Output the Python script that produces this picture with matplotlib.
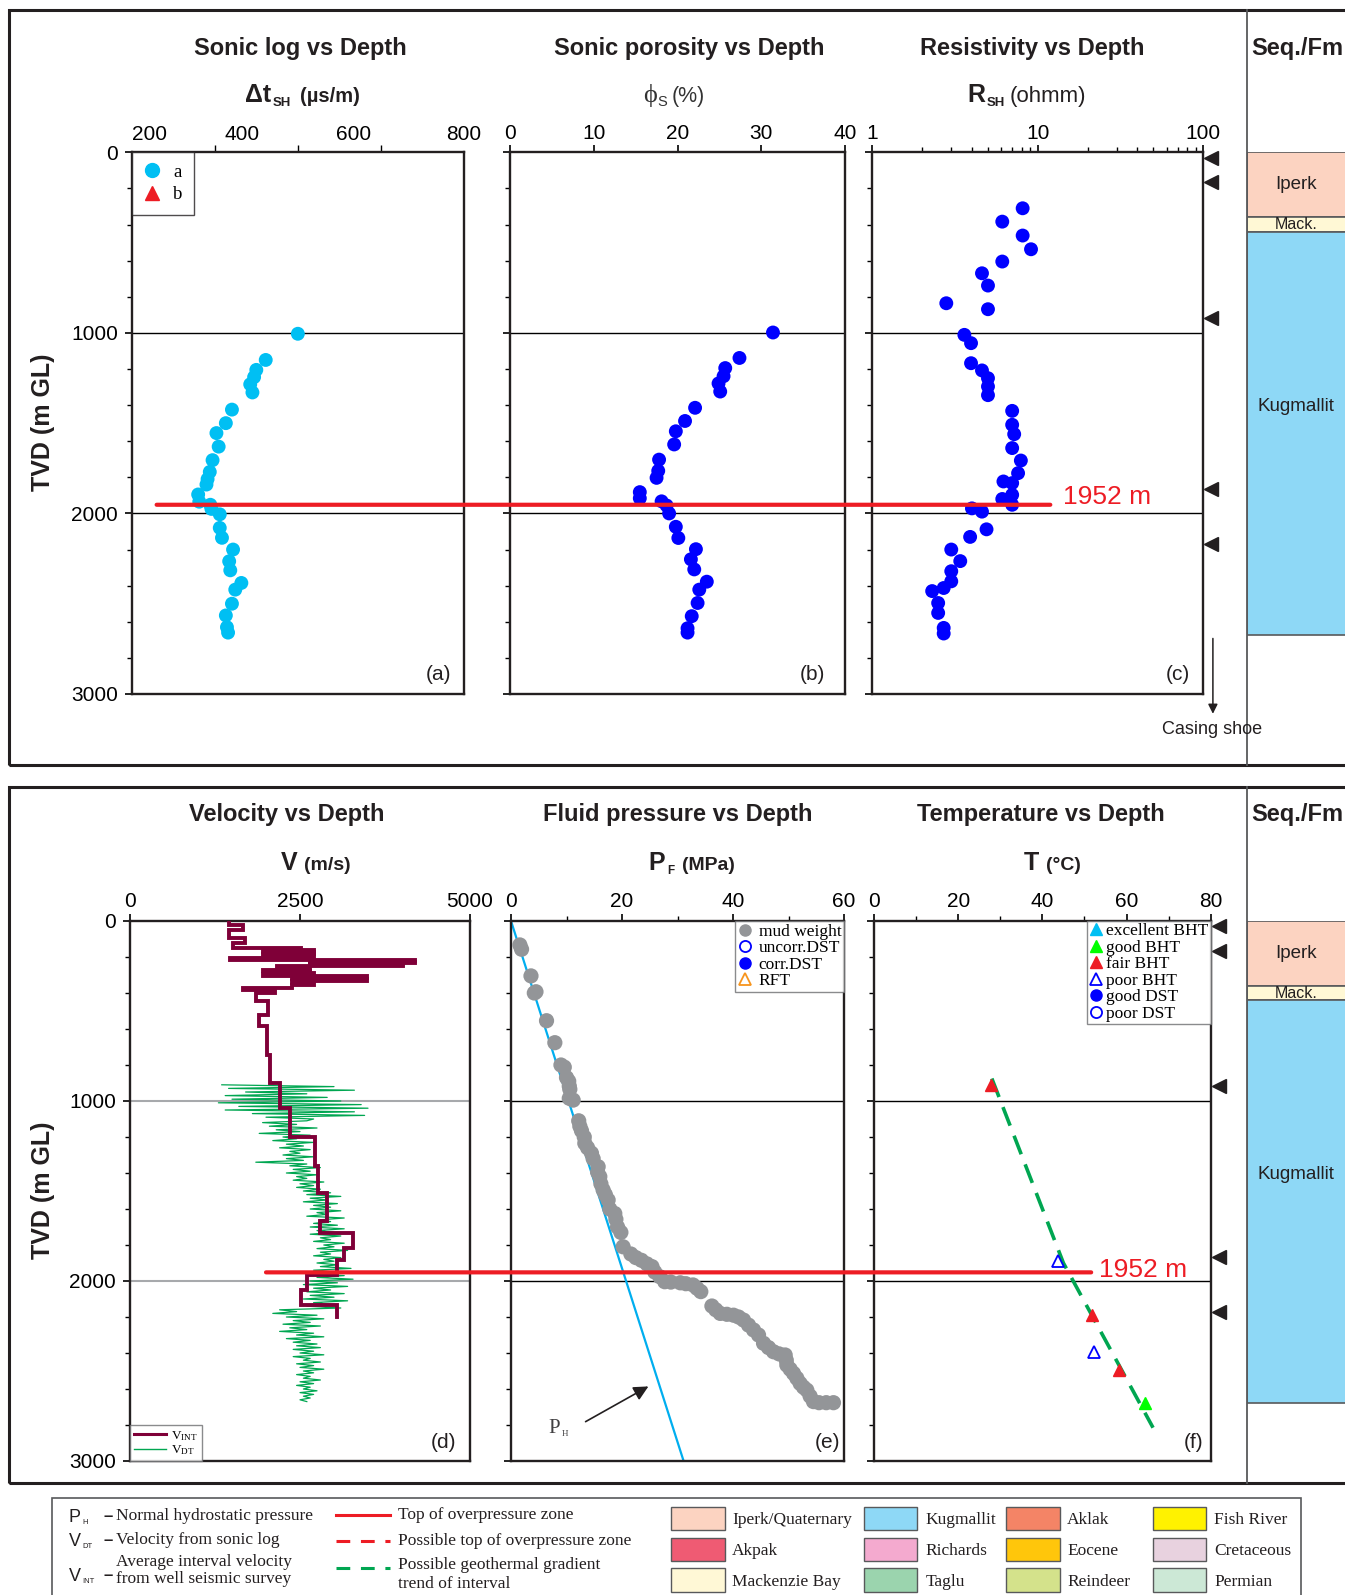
import numpy as np
import matplotlib
matplotlib.use('Agg')
import matplotlib.pyplot as plt
from matplotlib.lines import Line2D
from matplotlib.patches import Rectangle, ConnectionPatch
from matplotlib.transforms import blended_transform_factory
from matplotlib.ticker import FixedLocator, NullFormatter, LogLocator, FixedFormatter

plt.rcParams['font.family'] = ['Liberation Sans', 'DejaVu Sans']
plt.rcParams['mathtext.fontset'] = 'custom'
plt.rcParams['mathtext.rm'] = 'Liberation Serif'
plt.rcParams['mathtext.sf'] = 'Liberation Sans'
plt.rcParams['mathtext.bf'] = 'Liberation Sans:bold'
plt.rcParams['mathtext.it'] = 'Liberation Serif:italic'

# ---------------- data ----------------
# (a) sonic transit time
depth_a = [1005, 1150, 1205, 1245, 1285, 1330, 1425, 1500, 1555, 1630, 1705, 1770, 1810, 1840, 1895,
           1935, 1952, 1975, 2005, 2080, 2135, 2200, 2265, 2315, 2385, 2422, 2500, 2565, 2630, 2660]
dt_a = [500, 442, 425, 421, 414, 418, 381, 370, 353, 357, 346, 341, 337, 335, 320,
        322, 342, 344, 359, 359, 363, 383, 376, 378, 398, 387, 381, 370, 372, 374]
# (b) sonic porosity
depth_b = [998, 1139, 1195, 1240, 1280, 1325, 1415, 1488, 1545, 1618, 1702, 1764, 1803, 1882, 1916,
           1933, 1956, 2000, 2074, 2136, 2198, 2254, 2310, 2378, 2422, 2496, 2569, 2636, 2660]
phi_b = [31.4, 27.4, 25.7, 25.5, 24.9, 25.1, 22.1, 20.9, 19.8, 19.6, 17.8, 17.7, 17.5, 15.5, 15.5,
         18.1, 18.7, 19.0, 19.8, 20.1, 22.2, 21.6, 22.0, 23.5, 22.6, 22.4, 21.7, 21.2, 21.2]
# (c) shale resistivity
depth_c = [310, 384, 461, 537, 605, 670, 738, 836, 869, 1011, 1057, 1168, 1208, 1251, 1297, 1345,
           1432, 1509, 1561, 1638, 1707, 1777, 1823, 1832, 1897, 1920, 1952, 1972, 1990, 2088, 2130,
           2200, 2264, 2320, 2376, 2413, 2430, 2496, 2551, 2634, 2665]
res_c = [8.1, 6.1, 8.1, 9.1, 6.1, 4.6, 5.0, 2.8, 5.0, 3.6, 3.95, 3.95, 4.6, 5.0, 5.0, 5.0,
         7.0, 7.0, 7.2, 7.0, 7.9, 7.6, 6.2, 7.0, 7.0, 6.1, 7.0, 4.0, 4.6, 4.9, 3.9,
         3.0, 3.4, 3.0, 3.0, 2.7, 2.3, 2.5, 2.5, 2.7, 2.7]
# (d) interval velocity (step tops) and sonic velocity
vint_tops = [0, 22, 50, 96, 124, 152, 160, 166, 172, 181, 190, 205, 216, 222, 228, 236, 244, 250,
             259, 270, 278, 290, 296, 305, 314, 322, 334, 345, 356, 370, 385, 400, 445, 520, 585,
             744, 898, 1041, 1198, 1361, 1513, 1665, 1735, 1819, 1883, 1967, 2050, 2133]
vint_base = 2198
vint_v = [1450, 1660, 1450, 1690, 1520, 2520, 2700, 1950, 2700, 1950, 2700, 1470, 4190, 2650, 4190,
          2650, 4020, 2160, 2650, 1950, 2650, 2700, 1950, 3480, 2380, 3480, 2380, 2710, 2380, 1660,
          2130, 1860, 2030, 1890, 2010, 2060, 2210, 2350, 2720, 2770, 2890, 2790, 3280, 3140, 3040,
          2600, 2520, 3040]
vdt_top, vdt_step = 910, 10
vdt_v = [1350, 3000, 1450, 3300, 1700, 2600, 1400, 2900, 1500, 3100, 1300, 3400, 1600, 3500, 1400,
         3300, 1800, 3450, 2000, 2700,
         2600, 1950, 2450, 2050, 2750, 2150, 2500, 1900, 2650, 2250, 2450, 2100, 2700, 2300, 2550,
         2200, 2650, 2350, 2500, 2250,
         2700, 2300, 2550, 1850, 2600, 2350, 2800, 2400, 2650, 2300, 2750, 2450, 2600, 2400, 2850,
         2500, 2700, 2450, 2800, 2550,
         2950, 2600, 3100, 2650, 2900, 2550, 3050, 2700, 2950, 2650, 3100, 2750, 2900, 2600, 3150,
         2800, 2950, 2700, 3050, 2650,
         3150, 2750, 3000, 2650, 3100, 2800, 2950, 2700, 3150, 2850, 3000, 2750, 3200, 2800, 2950,
         2700, 3100, 2850, 3000, 2750,
         3050, 2800, 3250, 2700, 3000, 2600, 3150, 2750, 3280, 2650, 3050, 2550, 3200, 2700, 2950,
         2600, 3150, 2650, 3000, 2550, 3200, 2700, 2950, 2600, 3100,
         2200, 2450, 2100, 2750, 2300, 2850, 2400, 2650, 2250, 2800, 2350, 2600, 2200, 2700, 2450,
         2850, 2300, 2650, 2400, 2750,
         2450, 2800, 2400, 2700, 2500, 2850, 2400, 2650, 2550, 2800, 2450, 2700, 2500, 2850, 2550,
         2700, 2450, 2650, 2550, 2800, 2500, 2700, 2450, 2650, 2550, 2750, 2500, 2700, 2550, 2650,
         2500, 2600]
# (e) fluid pressure
mud_depth = [133, 157, 305, 393, 400, 554, 676, 800, 812, 870, 890, 917, 935, 985, 995, 1110, 1140,
             1165, 1200, 1235, 1260, 1290, 1320, 1365, 1395, 1420, 1460, 1494, 1520, 1550, 1600,
             1625, 1657, 1700, 1730, 1810, 1850, 1870, 1885, 1905, 1920, 1950, 1976, 2004, 2006,
             2010, 2015, 2022, 2040, 2059, 2139, 2160, 2180, 2185, 2190, 2200, 2217, 2245, 2272,
             2300, 2346, 2370, 2393, 2405, 2411, 2440, 2467, 2490, 2513, 2540, 2569, 2590, 2606,
             2640, 2670, 2676, 2676, 2676]
mud_p = [1.6, 1.9, 3.6, 4.5, 4.2, 6.4, 7.9, 9.0, 9.6, 10.0, 10.4, 10.5, 10.6, 10.5, 11.2, 12.2, 12.4,
         12.7, 13.2, 13.3, 13.8, 14.5, 14.8, 15.7, 15.6, 16.0, 16.2, 16.6, 17.0, 17.5, 17.8,
         18.7, 18.9, 19.2, 19.8, 20.2, 21.6, 22.5, 23.5, 24.5, 25.4, 25.9, 26.8, 27.7, 28.8,
         30.5, 31.5, 32.8, 33.5, 34.2, 36.2, 36.9, 37.7, 38.9, 40.1, 41.0, 41.9, 42.8, 43.7,
         44.6, 45.5, 46.4, 47.3, 48.3, 49.4, 49.6, 49.7, 50.3, 50.9, 51.5, 52.1, 52.7, 53.3,
         53.9, 54.5, 55.5, 56.8, 58.1]
ph_depth = [0, 3000]
ph_pressure = [0, 31.1]
# (f) temperature
fair_T, fair_d = [27.7, 51.7, 58.2], [910, 2187, 2496]
poor_T, poor_d = [43.7, 52.2], [1888, 2394]
good_T, good_d = [64.5], [2675]
geo_T, geo_d = [28.0, 45.0, 66.3], [875, 1900, 2815]
# overpressure top, casing points
op_top = 1952
casing_depths = [30, 165, 915, 1865, 2170]
shoe_depth = 2677
# formations
fm_names = ['Iperk', 'Mack.', 'Kugmallit']
fm_tops = [0, 360, 440]
fm_bases = [360, 440, 2675]
fm_label_depth = [180, 400, 1410]
fm_colors = ['#FCD3C1', '#FFF8D5', '#8ED8F6']
leg_fm_names = ['Iperk/Quaternary', 'Akpak', 'Mackenzie Bay', 'Kugmallit', 'Richards', 'Taglu',
                'Aklak', 'Eocene', 'Reindeer', 'Fish River', 'Cretaceous', 'Permian']
leg_fm_colors = ['#FCD3C1', '#EF5B73', '#FFF8D6', '#8ED8F6', '#F4AACF', '#9BD4AE',
                 '#F48466', '#FFC60B', '#D4E28B', '#FFF200', '#E8D2DF', '#CCE8D6']

# ---------------- layout helpers ----------------
W, H = 1345, 1595
fig = plt.figure(figsize=(W / 100, H / 100), dpi=100)

def rect(l, t, r, b):
    return [l / W, 1 - b / H, (r - l) / W, (b - t) / H]

def fx(x):
    return x / W

def fy(y):
    return 1 - y / H

def ftext(x, y, s, **kw):
    return fig.text(fx(x), fy(y), s, **kw)

DARK = '#231F20'
RED = '#ED1C24'
SERIF = ['Liberation Serif', 'DejaVu Serif']

ax_a = fig.add_axes(rect(131.7, 152.3, 464.0, 694.0))
ax_b = fig.add_axes(rect(510.0, 152.3, 845.0, 694.0))
ax_c = fig.add_axes(rect(872.3, 152.3, 1203.3, 694.0))
ax_d = fig.add_axes(rect(130.0, 921.0, 470.0, 1461.0))
ax_e = fig.add_axes(rect(511.0, 921.0, 844.0, 1461.0))
ax_f = fig.add_axes(rect(874.0, 921.0, 1210.7, 1461.0))


def style(ax, labels_left, gridcolor='black', gridlw=1.0):
    ax.set_ylim(3000, 0)
    ax.xaxis.tick_top()
    ax.yaxis.set_major_locator(FixedLocator([0, 1000, 2000, 3000]))
    ax.yaxis.set_minor_locator(FixedLocator(list(range(0, 3001, 200))))
    ax.tick_params(axis='y', which='major', direction='out', length=5, width=1.2,
                   labelsize=15, right=False, labelleft=labels_left, pad=5)
    ax.tick_params(axis='y', which='minor', direction='out', length=3.5, width=1.0, right=False)
    ax.tick_params(axis='x', which='major', direction='out', length=5, width=1.2, top=True,
                   bottom=False, labeltop=True, labelbottom=False, labelsize=15, pad=2)
    ax.tick_params(axis='x', which='minor', direction='out', length=5, width=1.0, top=True,
                   bottom=False)
    for s in ax.spines.values():
        s.set_linewidth(1.7)
        s.set_color(DARK)
    for d in (1000, 2000):
        ax.axhline(d, color=gridcolor, lw=gridlw, zorder=1)


# (a)
style(ax_a, True)
ax_a.set_xlim(200, 800)
ax_a.xaxis.set_major_locator(FixedLocator([200, 400, 600, 800]))
ax_a.xaxis.set_minor_locator(FixedLocator([350, 500, 650]))
ax_a.tick_params(axis='x', which='major', length=0, pad=6)
for lab in ax_a.get_xticklabels():
    lab.set_ha('left' if lab.get_text() == '200' else 'center')
ax_a.scatter(dt_a, depth_a, s=100, color='#00BFF3', edgecolors='none', zorder=3)
h_a = [Line2D([], [], marker='o', ls='none', color='#00BFF3', ms=10),
       Line2D([], [], marker='^', ls='none', color=RED, ms=10)]
leg = ax_a.legend(h_a, ['a', 'b'], loc='upper left', borderaxespad=0, frameon=True, fancybox=False,
                  edgecolor=DARK, prop={'family': SERIF, 'size': 13.5}, handlelength=1.0,
                  handletextpad=0.6, borderpad=0.6, labelspacing=0.3)
leg.get_frame().set_linewidth(1.0)

# (b)
style(ax_b, False)
ax_b.set_xlim(0, 40)
ax_b.xaxis.set_major_locator(FixedLocator([0, 10, 20, 30, 40]))
ax_b.scatter(phi_b, depth_b, s=100, color='#0000FF', edgecolors='none', zorder=3)

# (c)
style(ax_c, False)
ax_c.set_xscale('log')
ax_c.set_xlim(1, 100)
ax_c.xaxis.set_major_locator(FixedLocator([1, 10, 100]))
ax_c.xaxis.set_major_formatter(FixedFormatter(['1', '10', '100']))
ax_c.xaxis.set_minor_locator(LogLocator(base=10, subs=np.arange(2, 10)))
ax_c.xaxis.set_minor_formatter(NullFormatter())
ax_c.tick_params(axis='x', which='minor', length=3.5)
ax_c.scatter(res_c, depth_c, s=100, color='#0000FF', edgecolors='none', zorder=3)

# (d)
style(ax_d, True, gridcolor='#A7A9AC', gridlw=1.5)
ax_d.set_xlim(0, 5000)
ax_d.xaxis.set_major_locator(FixedLocator([0, 2500, 5000]))
vdt_depth = vdt_top + vdt_step * np.arange(len(vdt_v))
ax_d.plot(vdt_v, vdt_depth, color='#00A651', lw=0.9, zorder=2)
edges = vint_tops + [vint_base]
ax_d.plot(np.repeat(vint_v, 2), np.repeat(edges, 2)[1:-1], color='#7F0038', lw=2.8,
          solid_joinstyle='miter', zorder=3)
h_d = [Line2D([], [], color='#7F0038', lw=2.2), Line2D([], [], color='#00A651', lw=1.0)]
leg = ax_d.legend(h_d, [r'V$_{\mathrm{INT}}$', r'V$_{\mathrm{DT}}$'], loc='lower left',
                  borderaxespad=0, frameon=True, fancybox=False, edgecolor='#6D6E71',
                  prop={'family': SERIF, 'size': 9.5}, handlelength=2.4, handletextpad=0.4,
                  borderpad=0.3, labelspacing=0.05)
leg.get_frame().set_linewidth(1.0)

# (e)
style(ax_e, False)
ax_e.set_xlim(0, 60)
ax_e.xaxis.set_major_locator(FixedLocator([0, 20, 40, 60]))
ax_e.xaxis.set_minor_locator(FixedLocator([10, 30, 50]))
ax_e.tick_params(axis='x', which='minor', length=3.5)
ax_e.plot(ph_pressure, ph_depth, color='#00AEEF', lw=1.6, zorder=2)
ax_e.scatter(mud_p, mud_depth, s=120, color='#939598', edgecolors='none', zorder=3)
ax_e.annotate('', xy=(25.2, 2578), xytext=(13.0, 2789),
              arrowprops=dict(arrowstyle='-|>', color=DARK, lw=1.2, mutation_scale=22))
ax_e.text(8.9, 2822, 'P', family=SERIF, fontsize=15, ha='right', va='center', color='#414042')
ax_e.text(9.1, 2850, 'H', family=SERIF, fontsize=6.5, ha='left', va='center', color='#414042')
h_e = [Line2D([], [], marker='o', ls='none', color='#939598', ms=8),
       Line2D([], [], marker='o', ls='none', mfc='none', mec='#0000FF', mew=1.3, ms=8),
       Line2D([], [], marker='o', ls='none', color='#0000FF', ms=8),
       Line2D([], [], marker='^', ls='none', mfc='none', mec='#F7941D', mew=1.3, ms=9)]
leg = ax_e.legend(h_e, ['mud weight', 'uncorr.DST', 'corr.DST', 'RFT'], loc='upper right',
                  borderaxespad=0, frameon=True, fancybox=False, edgecolor='#6D6E71',
                  prop={'family': SERIF, 'size': 12.5}, handlelength=0.8, handletextpad=0.4,
                  borderpad=0.15, labelspacing=0.02)
leg.get_frame().set_linewidth(1.0)

# (f)
style(ax_f, False)
ax_f.set_xlim(0, 80)
ax_f.xaxis.set_major_locator(FixedLocator([0, 20, 40, 60, 80]))
ax_f.xaxis.set_minor_locator(FixedLocator([10, 30, 50, 70]))
ax_f.tick_params(axis='x', which='minor', length=3.5)
ax_f.plot(geo_T, geo_d, color='#00A651', lw=2.6, ls=(0, (5.5, 3)), zorder=2)
ax_f.plot(fair_T, fair_d, marker='^', ls='none', color=RED, ms=9, zorder=3)
ax_f.plot(poor_T, poor_d, marker='^', ls='none', mfc='white', mec='#0000FF', mew=1.3, ms=9, zorder=3)
ax_f.plot(good_T, good_d, marker='^', ls='none', color='#00FF00', ms=9, zorder=3)
h_f = [Line2D([], [], marker='^', ls='none', color='#00BFF3', ms=9),
       Line2D([], [], marker='^', ls='none', color='#00FF00', ms=9),
       Line2D([], [], marker='^', ls='none', color=RED, ms=9),
       Line2D([], [], marker='^', ls='none', mfc='none', mec='#0000FF', mew=1.3, ms=9),
       Line2D([], [], marker='o', ls='none', color='#0000FF', ms=8),
       Line2D([], [], marker='o', ls='none', mfc='none', mec='#0000FF', mew=1.3, ms=8)]
leg = ax_f.legend(h_f, ['excellent BHT', 'good BHT', 'fair BHT', 'poor BHT', 'good DST', 'poor DST'],
                  loc='upper right', borderaxespad=0, frameon=True, fancybox=False,
                  edgecolor='#6D6E71', prop={'family': SERIF, 'size': 12.5}, handlelength=0.8,
                  handletextpad=0.2, borderpad=0.12, labelspacing=0.02)
leg.get_frame().set_linewidth(1.0)

# ---------------- 1952 m line ----------------
con = ConnectionPatch(xyA=(245, op_top), coordsA=ax_a.transData, xyB=(11.9, op_top),
                      coordsB=ax_c.transData, color=RED, lw=3.0, zorder=10)
fig.add_artist(con)
con2 = ConnectionPatch(xyA=(2000, op_top), coordsA=ax_d.transData, xyB=(51.6, op_top),
                       coordsB=ax_f.transData, color=RED, lw=3.0, zorder=10)
fig.add_artist(con2)
ftext(1063, 497, '1952 m', color=RED, fontsize=19, ha='left', va='center')
ftext(1099, 1270, '1952 m', color=RED, fontsize=19, ha='left', va='center')

# casing point markers and shoe
for ax, xo in ((ax_c, 1.023), (ax_f, 1.025)):
    tr = blended_transform_factory(ax.transAxes, ax.transData)
    ax.plot([xo] * len(casing_depths), casing_depths, marker='<', ms=10, color=DARK, ls='none',
            transform=tr, clip_on=False, zorder=5)
tr_c = blended_transform_factory(ax_c.transAxes, ax_c.transData)
ax_c.annotate('', xy=(1.029, 3125), xytext=(1.029, shoe_depth), xycoords=tr_c, textcoords=tr_c,
              arrowprops=dict(arrowstyle='-|>', color=DARK, lw=1.1, mutation_scale=14),
              annotation_clip=False)
ftext(1212, 730, 'Casing shoe', fontsize=13, ha='center', va='center', color=DARK)

# ---------------- titles and labels ----------------
for x, t in ((300.8, 'Sonic log vs Depth'), (689.7, 'Sonic porosity vs Depth'),
             (1032, 'Resistivity vs Depth')):
    ftext(x, 55, t, fontsize=17, fontweight='bold', ha='center', va='baseline', color=DARK)
for x, t in ((286.7, 'Velocity vs Depth'), (678, 'Fluid pressure vs Depth'),
             (1041.3, 'Temperature vs Depth')):
    ftext(x, 820.5, t, fontsize=17, fontweight='bold', ha='center', va='baseline', color=DARK)
ftext(1251, 55, 'Seq./Fm', fontsize=17, fontweight='bold', ha='left', va='baseline', color=DARK)
ftext(1251, 820.5, 'Seq./Fm', fontsize=17, fontweight='bold', ha='left', va='baseline', color=DARK)

# axis quantity labels (built from pieces)
ftext(271, 102, 'Δt', fontsize=18, fontweight='bold', ha='right', va='baseline', color=DARK)
ftext(273, 106, 'SH', fontsize=9.5, fontweight='bold', ha='left', va='baseline', color=DARK)
ftext(300, 102, '(µs/m)', fontsize=14.5, fontweight='bold', ha='left', va='baseline', color=DARK)

ftext(657, 102, 'ϕ', fontsize=19, family=SERIF, ha='right', va='baseline', color='#333333')
ftext(657.5, 106, 'S', fontsize=10.5, ha='left', va='baseline', color='#333333')
ftext(672, 102, '(%)', fontsize=15.5, ha='left', va='baseline', color='#333333')

ftext(985, 102, 'R', fontsize=18, fontweight='bold', ha='right', va='baseline', color=DARK)
ftext(986.5, 106, 'SH', fontsize=9.5, fontweight='bold', ha='left', va='baseline', color=DARK)
ftext(1010, 102, '(ohmm)', fontsize=16, ha='left', va='baseline', color=DARK)

ftext(297, 870, 'V', fontsize=18, fontweight='bold', ha='right', va='baseline', color=DARK)
ftext(304, 870, '(m/s)', fontsize=14, fontweight='bold', ha='left', va='baseline', color=DARK)

ftext(665.5, 870, 'P', fontsize=18, fontweight='bold', ha='right', va='baseline', color=DARK)
ftext(667, 874, 'F', fontsize=8.5, fontweight='bold', ha='left', va='baseline', color=DARK)
ftext(681.7, 870, '(MPa)', fontsize=14, fontweight='bold', ha='left', va='baseline', color=DARK)

ftext(1039, 870, 'T', fontsize=18, fontweight='bold', ha='right', va='baseline', color=DARK)
ftext(1046, 870, '(°C)', fontsize=14, fontweight='bold', ha='left', va='baseline', color=DARK)

ftext(43, 422, 'TVD (m GL)', fontsize=18, fontweight='bold', rotation=90, ha='center',
      va='center', color=DARK)
ftext(43, 1190, 'TVD (m GL)', fontsize=18, fontweight='bold', rotation=90, ha='center',
      va='center', color=DARK)

for x, y, t in ((438.7, 674, '(a)'), (812.6, 674, '(b)'), (1178, 674, '(c)'),
                (443.8, 1443, '(d)'), (827.7, 1443, '(e)'), (1194, 1443, '(f)')):
    ftext(x, y, t, fontsize=15, ha='center', va='center', color=DARK)

# ---------------- frames and Seq./Fm columns ----------------
for t, b in ((10, 765), (787, 1483)):
    fig.add_artist(Rectangle((fx(9), fy(b)), (1400 - 9) / W, (b - t) / H, transform=fig.transFigure,
                             fill=False, lw=2.2, ec=DARK, zorder=0))
    fig.add_artist(Line2D([fx(1247), fx(1247)], [fy(t), fy(b)], transform=fig.transFigure,
                          color='#58595B', lw=1.3))

for (t, b) in ((152.3, 694.0), (921.0, 1461.0)):
    axs = fig.add_axes(rect(1247, t, 1345, b))
    axs.set_ylim(3000, 0)
    axs.set_xlim(0, 1)
    axs.axis('off')
    heights = [bb - tt for tt, bb in zip(fm_tops, fm_bases)]
    axs.barh(fm_tops, [1.2] * len(fm_tops), height=heights, left=0, align='edge',
             color=fm_colors, edgecolor='#58595B', linewidth=1.2)
    for name, d in zip(fm_names, fm_label_depth):
        axs.text(0.5, d, name, ha='center', va='center', fontsize=13.5 if name != 'Mack.' else 11.5,
                 color=DARK)

# ---------------- bottom legend ----------------
fig.add_artist(Rectangle((fx(52), fy(1620)), (1301 - 52) / W, (1620 - 1498) / H,
                         transform=fig.transFigure, fill=False, lw=1.2, ec='#58595B'))
sym_rows = [('P', 'H', 1516.5, ['Normal hydrostatic pressure']),
            ('V', 'DT', 1540.5, ['Velocity from sonic log']),
            ('V', 'INT', 1575, ['Average interval velocity', 'from well seismic survey'])]
for big, sub, y, lines in sym_rows:
    ftext(80.5, y + 6, big, fontsize=13, ha='right', va='baseline', color=DARK)
    ftext(82, y + 8, sub, fontsize=5.5, ha='left', va='baseline', color=DARK)
    ftext(108, y, '–', fontsize=12, fontweight='bold', ha='center', va='center', color=DARK)
    if len(lines) == 1:
        ftext(116, y, lines[0], family=SERIF, fontsize=12.5, ha='left', va='center', color=DARK)
    else:
        ftext(116, y - 12.5, lines[0], family=SERIF, fontsize=12.5, ha='left', va='center', color=DARK)
        ftext(116, y + 4, lines[1], family=SERIF, fontsize=12.5, ha='left', va='center', color=DARK)

line_rows = [(RED, '-', 1515, ['Top of overpressure zone']),
             (RED, (0, (4.5, 3.5)), 1540.7, ['Possible top of overpressure zone']),
             ('#00A651', (0, (4.5, 3.5)), 1568, ['Possible geothermal gradient', 'trend of interval'])]
for col, ls, y, lines in line_rows:
    fig.add_artist(Line2D([fx(336), fx(390)], [fy(y), fy(y)], transform=fig.transFigure,
                          color=col, lw=2.2, ls=ls))
    if len(lines) == 1:
        ftext(398, y, lines[0], family=SERIF, fontsize=12.5, ha='left', va='center', color=DARK)
    else:
        ftext(398, y - 3, lines[0], family=SERIF, fontsize=12.5, ha='left', va='center', color=DARK)
        ftext(398, y + 16, lines[1], family=SERIF, fontsize=12.5, ha='left', va='center', color=DARK)

col_x = [671, 863.6, 1006.4, 1152.8]
txt_x = [732, 925.6, 1067, 1214]
row_y = [1506.7, 1537.7, 1568.3]
for i, (name, col) in enumerate(zip(leg_fm_names, leg_fm_colors)):
    c, r = divmod(i, 3)
    fig.add_artist(Rectangle((fx(col_x[c]), fy(row_y[r] + 23.3)), 53.5 / W, 23.3 / H,
                             transform=fig.transFigure, fc=col, ec='#58595B', lw=1.0))
    ftext(txt_x[c], row_y[r] + 13.5, name, family=SERIF, fontsize=12.5, ha='left', va='center',
          color=DARK)

fig.savefig('out.png', dpi=100)
